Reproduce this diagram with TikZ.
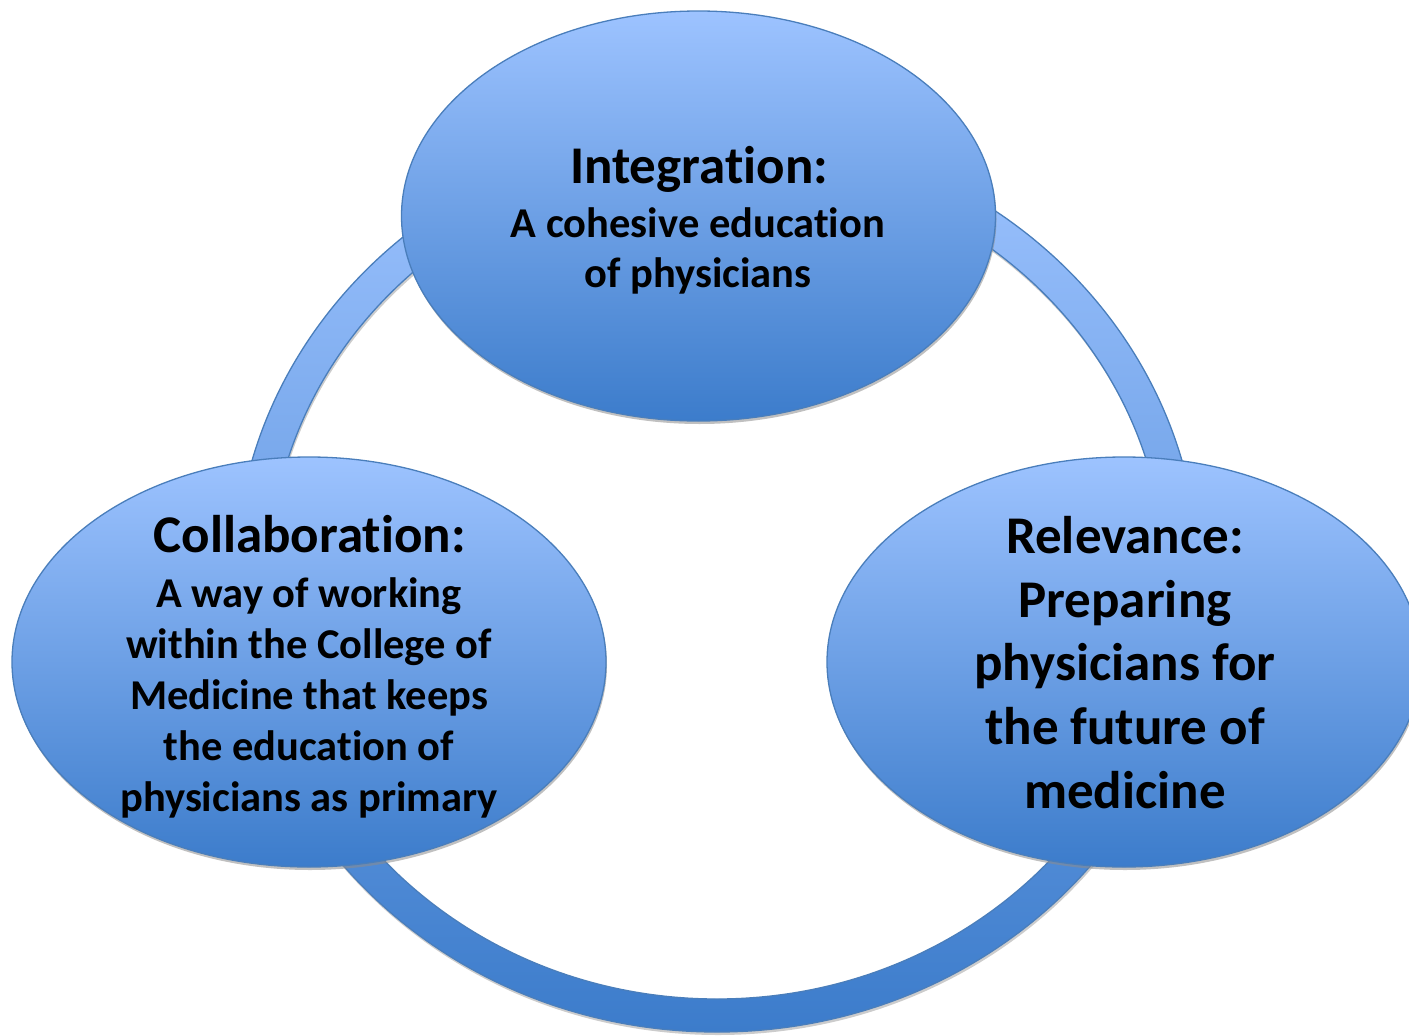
\documentclass[tikz,border=0pt]{standalone}
\usepackage{fontspec}
\setmainfont{Carlito}[Ligatures={NoCommon,NoContextual}]
\usetikzlibrary{shapes.geometric,shadows}
\definecolor{gtop}{RGB}{157,195,255}
\definecolor{gmid}{RGB}{124,168,236}
\definecolor{gbot}{RGB}{60,124,203}
\definecolor{edgeblue}{RGB}{74,126,187}
\tikzset{
  bubble/.style={ellipse, draw=edgeblue, line width=1.3pt, inner sep=0pt,
    minimum width=594pt, minimum height=410pt,
    top color=gtop, middle color=gmid, bottom color=gbot, shading angle=0,
    drop shadow={shadow xshift=1pt, shadow yshift=-3pt, fill=black!45, opacity=0.55}},
  big/.style={anchor=base, font=\bfseries\fontsize{53}{60}\selectfont, inner sep=0pt},
  small/.style={anchor=base, font=\bfseries\fontsize{42.5}{50}\selectfont, inner sep=0pt},
}
\begin{document}
\begin{tikzpicture}[x=1pt,y=-1pt]
\useasboundingbox (0,0) rectangle (1409,1036);
% ring shadow
\fill[black!40, opacity=0.5, even odd rule, shift={(1,3)}]
  (717,580) ellipse [x radius=482, y radius=452]
  (717,580) ellipse [x radius=448, y radius=419];
% ring
\shade[even odd rule, top color=gtop, middle color=gmid, bottom color=gbot]
  (717,580) ellipse [x radius=482, y radius=452]
  (717,580) ellipse [x radius=448, y radius=419];
\draw[edgeblue, line width=1.3pt]
  (717,580) ellipse [x radius=482, y radius=452]
  (717,580) ellipse [x radius=448, y radius=419];
% bubbles
\node[bubble] (integ) at (698.5,216) {};
\node[bubble] (collab) at (309,662) {};
\node[bubble] (relev) at (1124,662) {};
% texts
\node[big] (i1) at (699,183) {Integration:};
\node[small] (i2) at (698,237) {A cohesive education};
\node[small] (i3) at (698,287) {of physicians};
\node[big] (c1) at (309.5,552) {Collaboration:};
\node[small] (c2) at (309,607) {A way of working};
\node[small] (c3) at (309,658) {within the College of};
\node[small] (c4) at (309,709) {Medicine that keeps};
\node[small] (c5) at (309,760) {the education of};
\node[small] (c6) at (309,811) {physicians as primary};
\node[big] (r1) at (1125,553) {Relevance:};
\node[big] (r2) at (1125,617) {Preparing};
\node[big] (r3) at (1125,680) {physicians for};
\node[big] (r4) at (1125,744) {the future of};
\node[big] (r5) at (1125,808) {medicine};
\end{tikzpicture}
\end{document}
